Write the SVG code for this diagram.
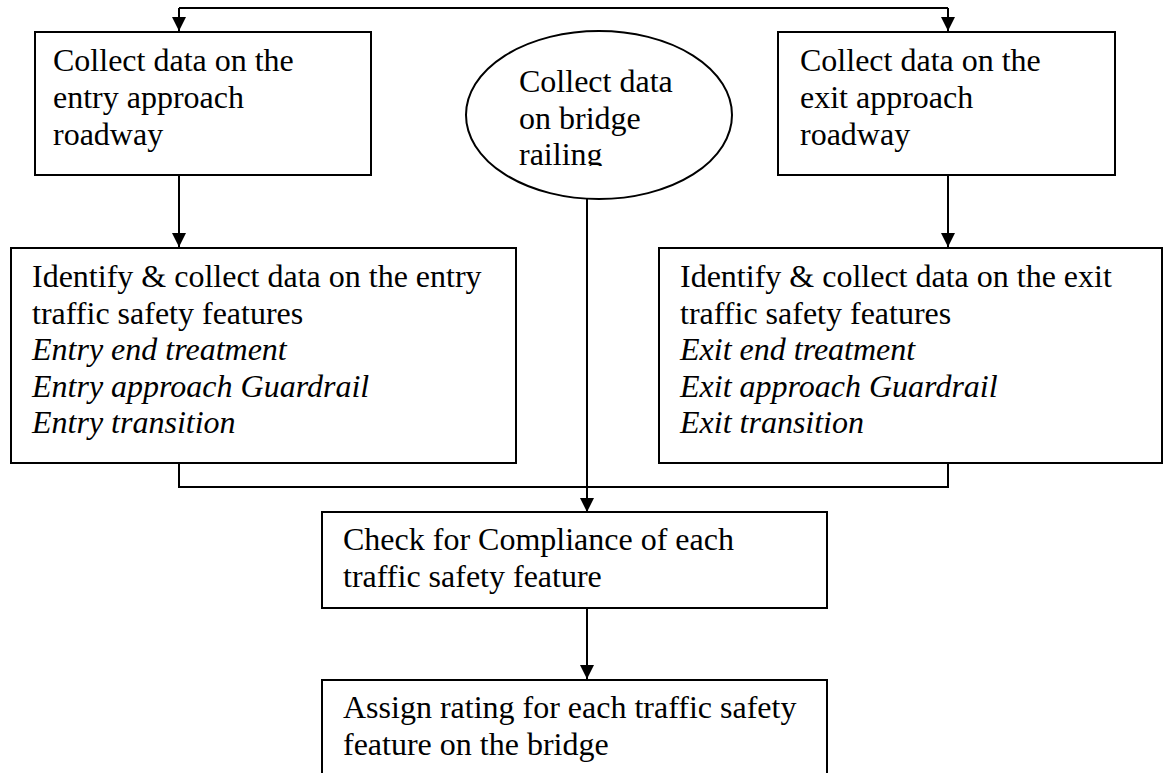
<svg xmlns="http://www.w3.org/2000/svg" width="1164" height="773" viewBox="0 0 1164 773">
<style>
.box{fill:#fff;stroke:#000;stroke-width:2}
.t{font-family:"Liberation Serif","Times New Roman",serif;font-size:32px;fill:#000}
.i{font-style:italic}
.c{fill:none;stroke:#000;stroke-width:2}
</style>
<defs>
<marker id="ah" markerUnits="userSpaceOnUse" markerWidth="14" markerHeight="14" viewBox="0 0 14 14" refX="14" refY="7" orient="auto">
<path d="M0,0 L14,7 L0,14 Z" fill="#000"/>
</marker>
<clipPath id="ellclip"><rect x="466" y="31" width="266" height="135"/></clipPath>
</defs>
<rect width="1164" height="773" fill="#fff"/>
<g id="connectors">
<path class="c" d="M179,8 V31" marker-end="url(#ah)"/>
<path class="c" d="M948,8 V31" marker-end="url(#ah)"/>
<path class="c" d="M179,8 H948"/>
<path class="c" d="M179,175 V247" marker-end="url(#ah)"/>
<path class="c" d="M948,175 V247" marker-end="url(#ah)"/>
<path class="c" d="M179,463 V487 H948 V463"/>
<path class="c" d="M587,199 V512" marker-end="url(#ah)"/>
<path class="c" d="M587,608 V679" marker-end="url(#ah)"/>
</g>
<g id="entry-approach">
<rect class="box" x="35" y="32" width="336" height="143"/>
<text class="t" x="53" y="71">Collect data on the</text>
<text class="t" x="53" y="108">entry approach</text>
<text class="t" x="53" y="145">roadway</text>
</g>
<g id="bridge-railing">
<ellipse class="box" cx="599" cy="115" rx="133" ry="84"/>
<g clip-path="url(#ellclip)">
<text class="t" x="519" y="92">Collect data</text>
<text class="t" x="519" y="128.5">on bridge</text>
<text class="t" x="519" y="165">railing</text>
</g>
</g>
<g id="exit-approach">
<rect class="box" x="778" y="32" width="337" height="143"/>
<text class="t" x="800" y="71">Collect data on the</text>
<text class="t" x="800" y="108">exit approach</text>
<text class="t" x="800" y="145">roadway</text>
</g>
<g id="entry-features">
<rect class="box" x="11" y="248" width="505" height="215"/>
<text class="t" x="32" y="287">Identify &amp; collect data on the entry</text>
<text class="t" x="32" y="323.5">traffic safety features</text>
<text class="t i" x="32" y="360">Entry end treatment</text>
<text class="t i" x="32" y="396.5">Entry approach Guardrail</text>
<text class="t i" x="32" y="433">Entry transition</text>
</g>
<g id="exit-features">
<rect class="box" x="659" y="248" width="503" height="215"/>
<text class="t" x="680" y="287">Identify &amp; collect data on the exit</text>
<text class="t" x="680" y="323.5">traffic safety features</text>
<text class="t i" x="680" y="360">Exit end treatment</text>
<text class="t i" x="680" y="396.5">Exit approach Guardrail</text>
<text class="t i" x="680" y="433">Exit transition</text>
</g>
<g id="compliance">
<rect class="box" x="322" y="512" width="505" height="96"/>
<text class="t" x="343" y="550">Check for Compliance of each</text>
<text class="t" x="343" y="587">traffic safety feature</text>
</g>
<g id="rating">
<rect class="box" x="322" y="680" width="505" height="120"/>
<text class="t" x="343" y="718">Assign rating for each traffic safety</text>
<text class="t" x="343" y="755">feature on the bridge</text>
</g>
</svg>
